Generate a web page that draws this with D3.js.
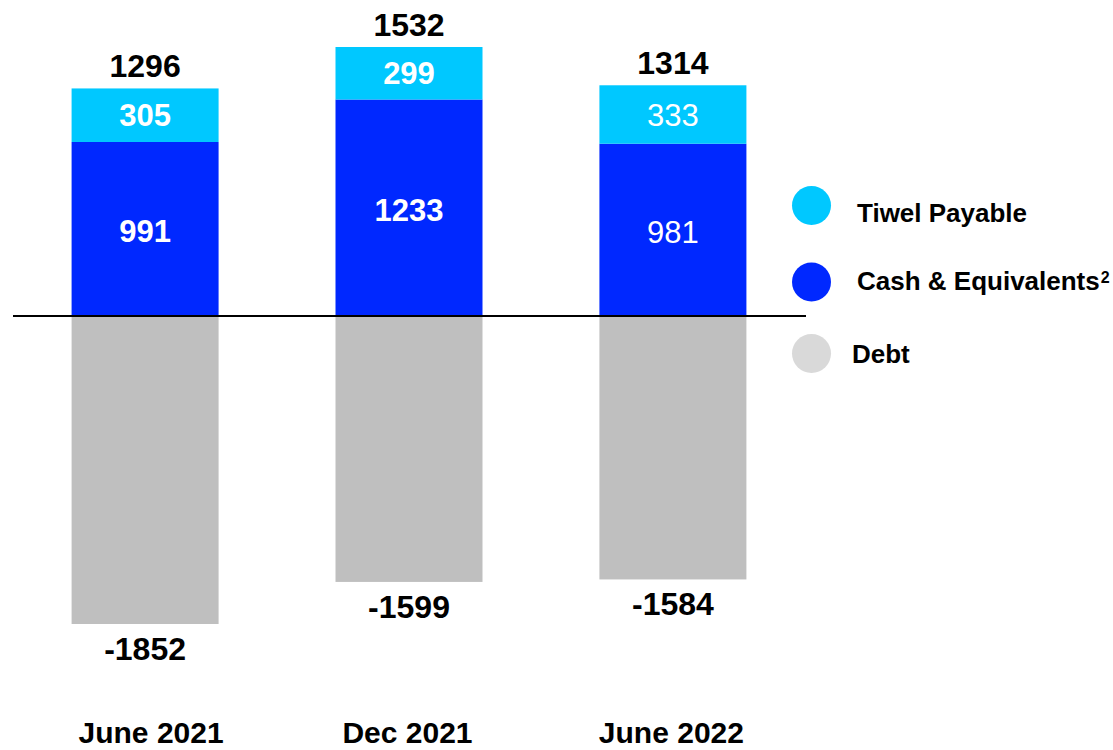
<!DOCTYPE html>
<html><head><meta charset="utf-8">
<script src="https://cdn.jsdelivr.net/npm/d3@7"></script>
<style>
html,body{margin:0;padding:0;background:#fff;}
svg{display:block;font-family:"Liberation Sans",Arial,sans-serif;}
</style></head>
<body><svg id="chart" width="1113" height="750"></svg>
<script>
const categories = ["June 2021", "Dec 2021", "June 2022"];
const tiwelPayable = [305, 299, 333];
const cash = [991, 1233, 981];
const debt = [-1852, -1599, -1584];
const totals = [1296, 1532, 1314];
const innerBold = [true, true, false];
const legendItems = ["Tiwel Payable", "Cash & Equivalents", "Debt"];

const colors = {tiwel: "#00C8FF", cash: "#0028FF", debt: "#BFBFBF", debtLegend: "#D9D9D9"};
const catLabelShift = [6, -1.5, -1.5];

const svg = d3.select("#chart");

const x = d3.scaleBand().domain(categories).range([13, 805]).paddingInner(0.443).paddingOuter(0.222);
const y = d3.scaleLinear().domain([d3.min(debt), 0, d3.max(totals)]).range([624, 316, 47]);

const data = categories.map((c, i) => ({
  cat: c, tiwel: tiwelPayable[i], cash: cash[i], debt: debt[i], total: totals[i],
  bold: innerBold[i], shift: catLabelShift[i]
}));

const g = svg.append("g");

g.selectAll(".debt").data(data).join("rect")
  .attr("x", d => x(d.cat)).attr("width", x.bandwidth())
  .attr("y", y(0)).attr("height", d => y(d.debt) - y(0))
  .attr("fill", colors.debt);

g.selectAll(".cash").data(data).join("rect")
  .attr("x", d => x(d.cat)).attr("width", x.bandwidth())
  .attr("y", d => y(d.cash)).attr("height", d => y(0) - y(d.cash))
  .attr("fill", colors.cash);

g.selectAll(".tiwel").data(data).join("rect")
  .attr("x", d => x(d.cat)).attr("width", x.bandwidth())
  .attr("y", d => y(d.cash + d.tiwel)).attr("height", d => y(d.cash) - y(d.cash + d.tiwel))
  .attr("fill", colors.tiwel);

svg.append("line").attr("x1", 13).attr("x2", 806).attr("y1", y(0)).attr("y2", y(0))
  .attr("stroke", "#000").attr("stroke-width", 2);

const cx = d => x(d.cat) + x.bandwidth() / 2;

g.selectAll(".total").data(data).join("text")
  .attr("x", cx).attr("y", d => y(d.total) - 11)
  .attr("text-anchor", "middle").attr("font-size", 32).attr("font-weight", "bold")
  .attr("fill", "#000").text(d => d.total);

g.selectAll(".tl").data(data).join("text")
  .attr("x", cx).attr("y", d => (y(d.cash) + y(d.cash + d.tiwel)) / 2 + 11)
  .attr("text-anchor", "middle").attr("font-size", 31)
  .attr("font-weight", d => d.bold ? "bold" : "normal")
  .attr("fill", "#fff").text(d => d.tiwel);

g.selectAll(".cl").data(data).join("text")
  .attr("x", cx).attr("y", d => (y(0) + y(d.cash)) / 2 + 13)
  .attr("text-anchor", "middle").attr("font-size", 31)
  .attr("font-weight", d => d.bold ? "bold" : "normal")
  .attr("fill", "#fff").text(d => d.cash);

g.selectAll(".dl").data(data).join("text")
  .attr("x", cx).attr("y", d => y(d.debt) + 36)
  .attr("text-anchor", "middle").attr("font-size", 32).attr("font-weight", "bold")
  .attr("fill", "#000").text(d => d.debt);

g.selectAll(".cat").data(data).join("text")
  .attr("x", d => cx(d) + d.shift).attr("y", 743)
  .attr("text-anchor", "middle").attr("font-size", 30).attr("font-weight", "bold")
  .attr("fill", "#000").text(d => d.cat);

const legend = [
  {label: legendItems[0], color: colors.tiwel, cy: 205.5, tx: 857, ty: 222},
  {label: legendItems[1], color: colors.cash, cy: 282, tx: 857, ty: 290},
  {label: legendItems[2], color: colors.debtLegend, cy: 353.5, tx: 852, ty: 363}
];
const lg = svg.append("g");
lg.selectAll("circle").data(legend).join("circle")
  .attr("cx", 811.5).attr("cy", d => d.cy).attr("r", 19.5).attr("fill", d => d.color);
const lt = lg.selectAll("text").data(legend).join("text")
  .attr("x", d => d.tx).attr("y", d => d.ty)
  .attr("font-size", 26).attr("font-weight", "bold").attr("fill", "#000")
  .text(d => d.label);
lt.filter((d, i) => i === 1).append("tspan")
  .attr("dy", -7).attr("dx", 1).attr("font-size", 16).text("2");
</script></body></html>
